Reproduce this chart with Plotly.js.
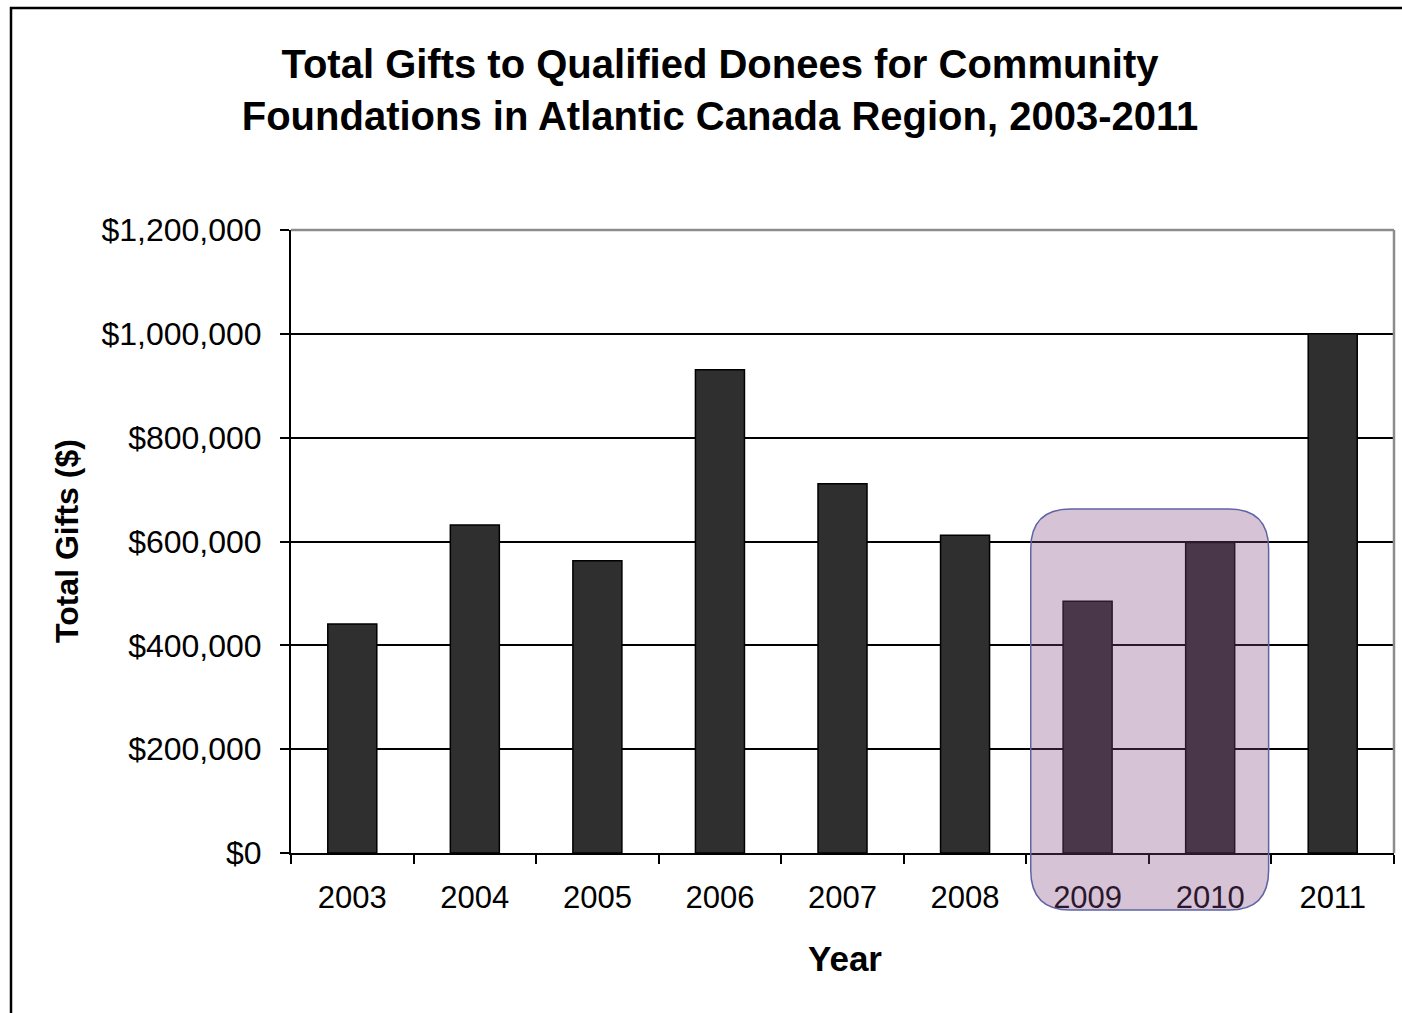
<!DOCTYPE html>
<html>
<head>
<meta charset="utf-8">
<script src="https://cdn.plot.ly/plotly-3.0.1.min.js"></script>
<style>html,body{margin:0;padding:0;background:#fff;}#chart{width:1402px;height:1013px;}</style>
</head>
<body>
<div id="chart"></div>
<script>
const years = ['2003','2004','2005','2006','2007','2008','2009','2010','2011'];
const totalGifts = [441000, 632000, 563000, 931000, 711000, 612000, 485000, 598000, 1000000];
const yTickVals = [0, 200000, 400000, 600000, 800000, 1000000, 1200000];
const highlightYears = ['2009','2010'];

const FONT = 'Liberation Sans, Arial, sans-serif';
const n = years.length;
const i0 = years.indexOf(highlightYears[0]);
const i1 = years.indexOf(highlightYears[highlightYears.length-1]);
// highlight box in paper coordinates
const hx0 = (i0 + 0.036) / n, hx1 = (i1 + 0.977) / n;
const hy0 = -0.0915, hy1 = 0.552;
const rx = 0.036, ry = 0.064;
function boxPath(dx, dy) {
  const a = hx0+dx, b = hx1+dx, c = hy0+dy, d = hy1+dy;
  return `M ${a+rx},${d} L ${b-rx},${d} Q ${b},${d} ${b},${d-ry} L ${b},${c+ry} Q ${b},${c} ${b-rx},${c} L ${a+rx},${c} Q ${a},${c} ${a},${c+ry} L ${a},${d-ry} Q ${a},${d} ${a+rx},${d} Z`;
}

const trace = {
  type: 'bar', x: years, y: totalGifts, width: 0.4,
  marker: {color: '#2f2f2f', line: {color: '#000', width: 1.5}},
  hoverinfo: 'x+y'
};

const layout = {
  width: 1402, height: 1013,
  margin: {l: 291, r: 8, t: 230, b: 160},
  paper_bgcolor: '#fff', plot_bgcolor: '#fff',
  font: {family: FONT, color: '#000'},
  showlegend: false,
  title: {
    text: 'Total Gifts to Qualified Donees for Community<br>Foundations in Atlantic Canada Region, 2003-2011',
    x: 720/1402, xanchor: 'center', xref: 'container',
    y: 1 - 78/1013, yanchor: 'middle', yref: 'container',
    font: {size: 40, family: FONT, weight: 'bold', color: '#000'}
  },
  xaxis: {
    type: 'category', showline: true, linecolor: '#000', linewidth: 2,
    ticks: 'outside', tickson: 'boundaries', ticklen: 9, tickwidth: 2, tickcolor: '#000',
    showgrid: false, tickfont: {size: 31, family: FONT}, ticklabelstandoff: 16,
    fixedrange: true
  },
  yaxis: {
    range: [0, 1200000], tickvals: yTickVals, tickformat: '$,.0f',
    showline: true, linecolor: '#000', linewidth: 2,
    ticks: 'outside', ticklen: 9, tickwidth: 2, tickcolor: '#000',
    showgrid: true, gridcolor: '#000', gridwidth: 2, zeroline: false,
    tickfont: {size: 32, family: FONT}, ticklabelstandoff: 12,
    fixedrange: true
  },
  annotations: [
    {text: 'Total Gifts ($)', xref: 'paper', yref: 'paper', x: (67-291)/1103, y: (853-541)/623,
     xanchor: 'center', yanchor: 'middle', textangle: -90, showarrow: false,
     font: {size: 32, family: FONT, weight: 'bold'}},
    {text: 'Year', xref: 'paper', yref: 'paper', x: (845-291)/1103, y: (853-958)/623,
     xanchor: 'center', yanchor: 'middle', showarrow: false,
     font: {size: 35, family: FONT, weight: 'bold'}}
  ],
  shapes: [
    {type: 'line', xref: 'paper', yref: 'paper', x0: 0, x1: 1, y0: 1, y1: 1, line: {color: '#8c8c8c', width: 2.5}, layer: 'above'},
    {type: 'line', xref: 'paper', yref: 'paper', x0: 1, x1: 1, y0: 0, y1: 1, line: {color: '#8c8c8c', width: 2.5}, layer: 'above'},
    {type: 'rect', xref: 'paper', yref: 'paper', x0: (11-291)/1103, x1: 1.2, y0: -0.6, y1: (853-8)/623, line: {color: '#000', width: 2.5}, layer: 'above'},
    {type: 'path', xref: 'paper', yref: 'paper', path: boxPath(0, 0), fillcolor: 'rgba(130,72,130,0.33)', line: {color: 'rgb(95,100,165)', width: 1.5}, layer: 'above'}
  ]
};

Plotly.newPlot('chart', [trace], layout, {displayModeBar: false, staticPlot: true});
</script>
</body>
</html>
